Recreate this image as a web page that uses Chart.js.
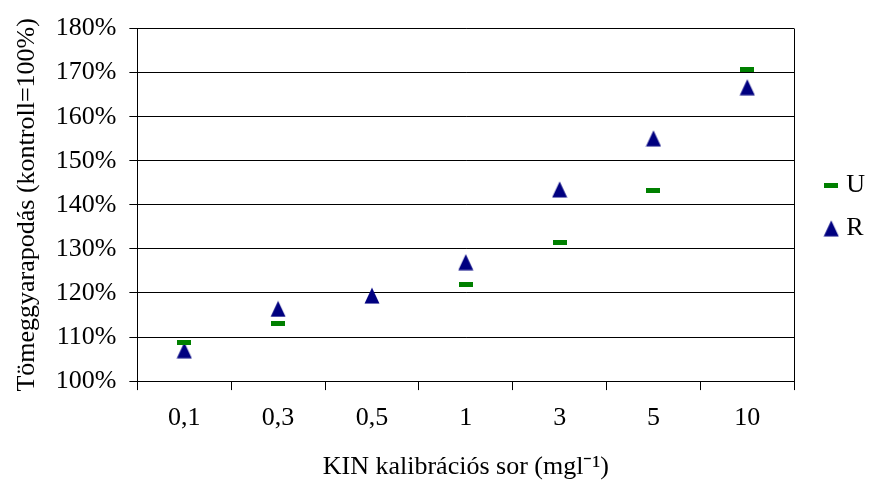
<!DOCTYPE html>
<html>
<head>
<meta charset="utf-8">
<script src="https://cdn.jsdelivr.net/npm/chart.js@4/dist/chart.umd.min.js"></script>
<style>
  html, body { margin: 0; padding: 0; background: #fff; }
  #wrap { width: 869px; height: 485px; }
</style>
</head>
<body>
<div id="wrap"><canvas id="c" width="869" height="485"></canvas></div>
<script>
// Calibration series (mg/l) and relative mass gain, % of control
const categories = ['0,1', '0,3', '0,5', '1', '3', '5', '10'];
const seriesU = [108.8, 113.0, null, 122.0, 131.5, 143.3, 170.8];
const seriesR = [107.0, 116.4, 119.4, 127.0, 143.5, 155.1, 166.7];
const yTicks = [100, 110, 120, 130, 140, 150, 160, 170, 180];

const FONT = 'Liberation Serif, "Times New Roman", serif';
const FS = 26;

// Marker glyphs: a short green dash and a navy triangle
function dashMarker() {
  const cv = document.createElement('canvas');
  cv.width = 14; cv.height = 5;
  const g = cv.getContext('2d');
  g.fillStyle = '#008000';
  g.fillRect(0, 0, 14, 5);
  return cv;
}
function triangleMarker() {
  const cv = document.createElement('canvas');
  cv.width = 16; cv.height = 17;
  const g = cv.getContext('2d');
  g.fillStyle = '#000080';
  g.beginPath();
  g.moveTo(8, 0.5);
  g.lineTo(15.5, 16.5);
  g.lineTo(0.5, 16.5);
  g.closePath();
  g.fill();
  return cv;
}

// Frame the plot area on the right side, and nudge the legend column
const frame = {
  id: 'frame',
  afterLayout(chart) {
    const lg = chart.legend;
    if (lg) { lg.left += 18; lg.right += 18; lg.top += 2; lg.bottom += 2; }
  },
  afterDraw(chart) {
    const a = chart.chartArea, ctx = chart.ctx;
    ctx.save();
    ctx.strokeStyle = '#000';
    ctx.lineWidth = 1;
    ctx.beginPath();
    ctx.moveTo(Math.round(a.right) + 0.5, a.top);
    ctx.lineTo(Math.round(a.right) + 0.5, a.bottom);
    ctx.stroke();
    ctx.restore();
  }
};

new Chart(document.getElementById('c'), {
  type: 'line',
  data: {
    labels: categories,
    datasets: [
      { label: 'U', data: seriesU, showLine: false, pointStyle: dashMarker(), pointRadius: 7, pointHoverRadius: 7 },
      { label: 'R', data: seriesR, showLine: false, pointStyle: triangleMarker(), pointRadius: 8, pointHoverRadius: 8 }
    ]
  },
  options: {
    responsive: false,
    animation: false,
    devicePixelRatio: 1,
    layout: { padding: { top: 26.5, right: 12, bottom: 2.5, left: 1.5 } },
    plugins: {
      tooltip: { enabled: false },
      legend: {
        position: 'right',
        fullSize: false,
        labels: {
          usePointStyle: true,
          pointStyleWidth: 4,
          color: '#000',
          font: { family: FONT, size: FS },
          padding: 17
        }
      }
    },
    scales: {
      x: {
        type: 'category',
        offset: true,
        grid: { offset: true, drawOnChartArea: false, color: '#000', tickLength: 9, tickColor: '#000' },
        border: { color: '#000', width: 1 },
        ticks: { color: '#000', font: { family: FONT, size: FS }, padding: 12, maxRotation: 0 },
        title: { display: true, text: 'KIN kalibrációs sor (mgl⁻¹)', color: '#000', font: { family: FONT, size: FS }, padding: { top: 6, bottom: 0 } }
      },
      y: {
        min: 100, max: 180,
        afterBuildTicks(axis) { axis.ticks = yTicks.map(v => ({ value: v })); },
        grid: { color: '#000', tickLength: 8, tickColor: '#000' },
        border: { color: '#000', width: 1 },
        ticks: { color: '#000', font: { family: FONT, size: FS }, padding: 13, callback: v => v + '%' },
        title: { display: true, text: 'Tömeggyarapodás (kontroll=100%)', color: '#000', font: { family: FONT, size: FS }, padding: { top: 10, bottom: 0 } }
      }
    }
  },
  plugins: [frame]
});
</script>
</body>
</html>
